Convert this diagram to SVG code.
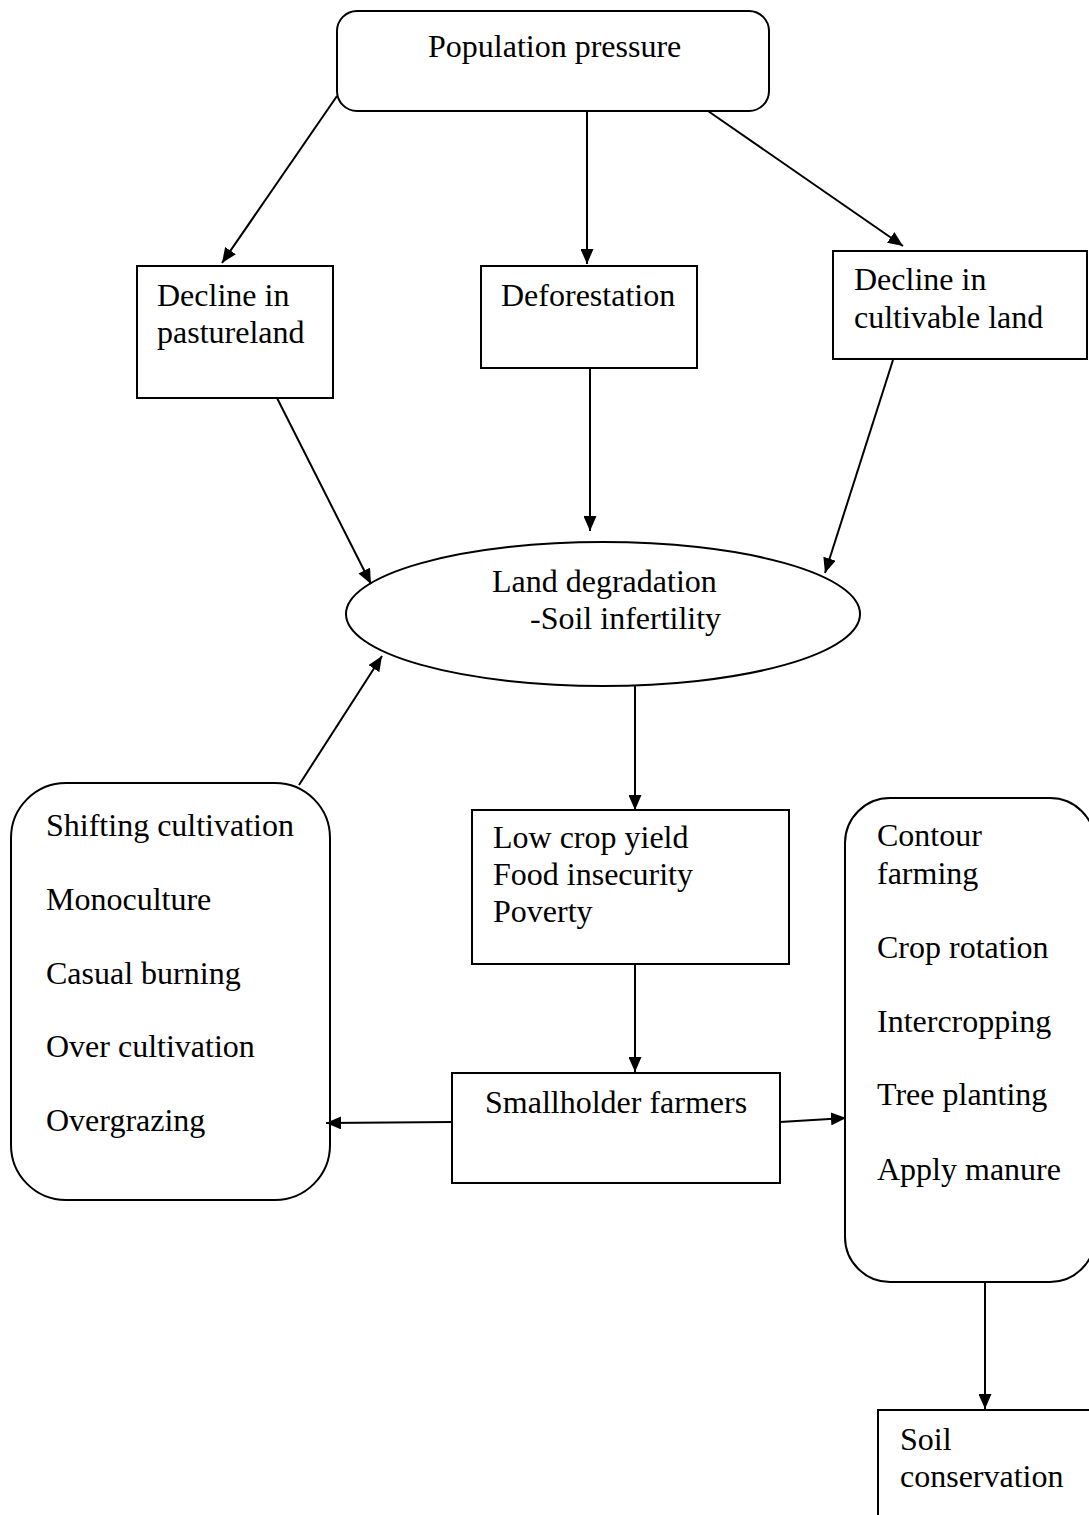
<svg xmlns="http://www.w3.org/2000/svg" width="1089" height="1515" viewBox="0 0 1089 1515">
<defs>
<marker id="ah" viewBox="0 0 15 13" refX="15" refY="6.5" markerWidth="15" markerHeight="13" markerUnits="userSpaceOnUse" orient="auto">
<path d="M0,0 L15,6.5 L0,13 z" fill="#000"/>
</marker>
<style>
.s{fill:#fff;stroke:#000;stroke-width:2}
.t{font-family:"Liberation Serif","Times New Roman",serif;font-size:32px;fill:#000}
.c line{stroke:#000;stroke-width:2;marker-end:url(#ah)}
</style>
</defs>
<rect width="1089" height="1515" fill="#fff"/>
<g id="n-population"><rect class="s" x="337" y="11" width="432" height="100" rx="20"/><text class="t" x="428" y="57">Population pressure</text></g>
<g id="n-pasture"><rect class="s" x="137" y="266" width="196" height="132"/><text class="t" x="157" y="306">Decline in</text><text class="t" x="157" y="343">pastureland</text></g>
<g id="n-deforestation"><rect class="s" x="481" y="266" width="216" height="102"/><text class="t" x="501" y="306">Deforestation</text></g>
<g id="n-cultivable"><rect class="s" x="833" y="251" width="254" height="108"/><text class="t" x="854" y="290">Decline in</text><text class="t" x="854" y="328">cultivable land</text></g>
<g id="n-degradation"><ellipse class="s" cx="603" cy="614" rx="257" ry="72"/><text class="t" x="492" y="592">Land degradation</text><text class="t" x="530" y="629">-Soil infertility</text></g>
<g id="n-lowyield"><rect class="s" x="472" y="810" width="317" height="154"/><text class="t" x="493" y="848">Low crop yield</text><text class="t" x="493" y="885">Food insecurity</text><text class="t" x="493" y="922">Poverty</text></g>
<g id="n-causes"><rect class="s" x="11" y="783" width="319" height="417" rx="55"/><text class="t" x="46" y="836">Shifting cultivation</text><text class="t" x="46" y="910">Monoculture</text><text class="t" x="46" y="984">Casual burning</text><text class="t" x="46" y="1057">Over cultivation</text><text class="t" x="46" y="1131">Overgrazing</text></g>
<g id="n-smallholder"><rect class="s" x="452" y="1073" width="328" height="110"/><text class="t" x="485" y="1113">Smallholder farmers</text></g>
<g id="n-practices"><rect class="s" x="845" y="798" width="250" height="484" rx="45"/><text class="t" x="877" y="846">Contour</text><text class="t" x="877" y="884">farming</text><text class="t" x="877" y="958">Crop rotation</text><text class="t" x="877" y="1032">Intercropping</text><text class="t" x="877" y="1105">Tree planting</text><text class="t" x="877" y="1180">Apply manure</text></g>
<g id="n-conservation"><rect class="s" x="878" y="1410" width="230" height="130"/><text class="t" x="900" y="1450">Soil</text><text class="t" x="900" y="1487">conservation</text></g>
<g id="connectors" class="c">
<line x1="337" y1="96" x2="222" y2="263"/>
<line x1="587" y1="111" x2="587" y2="264"/>
<line x1="708" y1="111" x2="903" y2="246"/>
<line x1="277" y1="398" x2="371" y2="584"/>
<line x1="590" y1="368" x2="590" y2="531"/>
<line x1="893" y1="360" x2="825" y2="573"/>
<line x1="299" y1="785" x2="382" y2="656"/>
<line x1="635" y1="686" x2="635" y2="810"/>
<line x1="635" y1="964" x2="635" y2="1072"/>
<line x1="452" y1="1122" x2="326" y2="1123"/>
<line x1="780" y1="1122" x2="846" y2="1118"/>
<line x1="985" y1="1282" x2="985" y2="1409"/>
</g>
</svg>
